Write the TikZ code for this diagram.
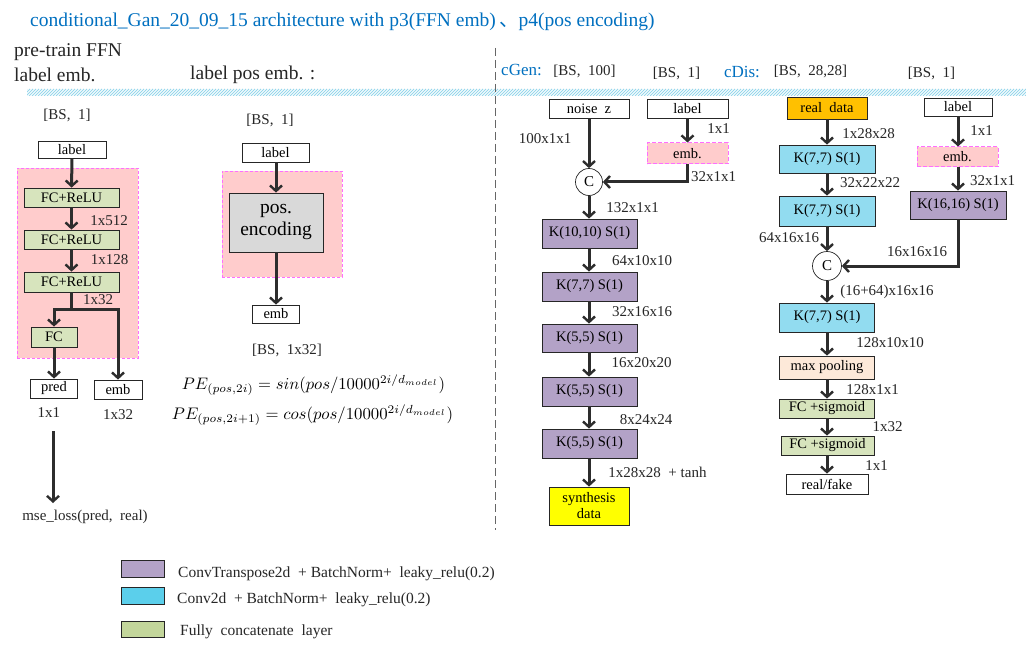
\documentclass[tikz,border=0pt]{standalone}
\usepackage{fontspec}
\setmainfont{Liberation Serif}
\newfontfamily\cjk{Noto Sans CJK SC}
\usetikzlibrary{arrows.meta,calc}
\definecolor{titleblue}{RGB}{0,112,192}
\definecolor{pinkfill}{RGB}{255,204,204}
\definecolor{pinkline}{RGB}{255,110,255}
\definecolor{fcgreen}{RGB}{215,228,189}
\definecolor{leggreen}{RGB}{195,214,155}
\definecolor{convpurple}{RGB}{179,162,199}
\definecolor{convcyan}{RGB}{146,220,240}
\definecolor{legcyan}{RGB}{91,207,235}
\definecolor{posgray}{RGB}{217,217,217}
\definecolor{realorange}{RGB}{255,192,0}
\definecolor{synyellow}{RGB}{255,255,0}
\definecolor{poolpeach}{RGB}{253,233,217}
\definecolor{hatchblue}{RGB}{150,215,235}
\definecolor{arrgray}{RGB}{45,45,45}
\definecolor{edgegray}{RGB}{38,38,38}
\tikzset{
  box/.style={draw=edgegray, line width=0.8pt, inner sep=0pt, align=center, font=\fontsize{14.5}{15}\selectfont},
  whitebox/.style={box, fill=white},
  fcbox/.style={box, fill=fcgreen},
  purplebox/.style={box, fill=convpurple},
  cyanbox/.style={box, fill=convcyan},
  embbox/.style={box, fill=pinkfill, draw=pinkline, dashed, dash pattern=on 4pt off 2pt, line width=1pt},
  pinkbg/.style={fill=pinkfill, draw=pinkline, dash pattern=on 3pt off 2pt, line width=0.6pt, inner sep=0pt},
  concat/.style={circle, draw=edgegray, line width=0.7pt, fill=white, minimum size=27pt, inner sep=0pt, font=\fontsize{15}{15}\selectfont},
  arr/.style={draw=arrgray, line width=3pt, -{Straight Barb[length=5.5pt,width=12pt,line width=2.4pt]}},
  plainline/.style={draw=arrgray, line width=3pt},
  lbl/.style={inner sep=0pt, font=\fontsize{15}{15}\selectfont, text=black!85},
  head/.style={inner sep=0pt, font=\fontsize{19.5}{20}\selectfont, text=black!85, anchor=west},
  bluelbl/.style={inner sep=0pt, font=\fontsize{17}{17}\selectfont, text=titleblue},
  legbox/.style={draw=edgegray, line width=0.8pt, minimum width=43pt, minimum height=17pt, inner sep=0pt},
  legtext/.style={inner sep=0pt, anchor=west, font=\fontsize{15.5}{16}\selectfont, text=black!85},
}
\begin{document}
\begin{tikzpicture}[x=1pt,y=-1pt]
\useasboundingbox[fill=white] (0,0) rectangle (1026,650);

% title
\node[inner sep=0pt, anchor=west, text=titleblue, font=\fontsize{19.5}{20}\selectfont] (title) at (30,22)
  {conditional\_Gan\_20\_09\_15 architecture with p3(FFN emb)\,{\cjk 、}p4(pos encoding)};
\node[head] (pretrain) at (14,52) {pre-train FFN};
\node[head] (labelemb) at (14,75) {label emb.};
\node[head] (labelpos) at (190,75) {label pos emb. :};

% hatched strip
\begin{scope}
  \clip (27,89) rectangle (1026,96);
  \foreach \i in {20,23,...,1030} {
    \draw[hatchblue, line width=0.9pt] (\i,96) -- ++(7,-7);
  }
\end{scope}

% dashed separator
\coordinate (septop) at (495,48);
\coordinate (sepbot) at (495,530);
\draw[gray!80!black, line width=1pt, dash pattern=on 8pt off 4pt] (septop) -- (sepbot);

% ---------- left : FFN ----------
\node[lbl] (bs1) at (67,115) {[BS,\ \ 1]};
\node[whitebox, minimum width=68pt, minimum height=17pt] (lbl1) at (72,149.5) {label};
\node[pinkbg, minimum width=121pt, minimum height=190pt] (bg1) at (77.5,263) {};
\node[fcbox, minimum width=95pt, minimum height=19pt] (fc1) at (71.5,197.5) {FC+ReLU};
\node[fcbox, minimum width=95pt, minimum height=19pt] (fc2) at (71.5,239.5) {FC+ReLU};
\node[fcbox, minimum width=95pt, minimum height=20pt] (fc3) at (71.5,282) {FC+ReLU};
\node[fcbox, minimum width=46pt, minimum height=20pt] (fc4) at (54,337) {FC};
\node[whitebox, minimum width=47pt, minimum height=19pt] (pred) at (54,388.5) {pred};
\node[whitebox, minimum width=48pt, minimum height=19pt] (emb1) at (118,389.5) {emb};
\node[lbl] (d512) at (109,221) {1x512};
\node[lbl] (d128) at (109.5,260) {1x128};
\node[lbl] (d32a) at (98,300) {1x32};
\node[lbl] (d1a) at (49,413) {1x1};
\node[lbl] (d32b) at (118,415) {1x32};
\node[lbl] (mse) at (85,517) {mse\_loss(pred,\ \ real)};
\coordinate (msestart) at (53,431);
\coordinate (mseend) at (53,503);

\draw[arr] (lbl1) -- (fc1);
\draw[arr] (fc1) -- (fc2);
\draw[arr] (fc2) -- (fc3);
\coordinate (split) at (71.5,309);
\draw[plainline] (fc3.south) -- (split);
\draw[arr] (split) -| (fc4.north);
\draw[arr] (split) -| (emb1.north);
\draw[arr] (fc4) -- (pred);
\draw[arr] (msestart) -- (mseend);

% ---------- middle : pos encoding ----------
\node[lbl] (bs2) at (270,120) {[BS,\ \ 1]};
\node[whitebox, minimum width=67pt, minimum height=19pt] (lbl2) at (275.5,152.5) {label};
\node[pinkbg, minimum width=120pt, minimum height=106pt] (bg2) at (282,224) {};
\node[box, fill=posgray, minimum width=94pt, minimum height=59pt, font=\fontsize{19.5}{22}\selectfont] (posenc) at (276,222.5) {pos.\\encoding};
\node[whitebox, minimum width=47pt, minimum height=18pt] (emb2) at (276,314) {emb};
\node[lbl] (bs3) at (287,350) {[BS,\ \ 1x32]};
\node[inner sep=0pt] (pe1) at (313.5,385) {\resizebox{263pt}{!}{$PE_{(pos,2i)} = sin(pos/10000^{2i/d_{model}})$}};
\node[inner sep=0pt] (pe2) at (312.5,415) {\resizebox{281pt}{!}{$PE_{(pos,2i+1)} = cos(pos/10000^{2i/d_{model}})$}};
\draw[arr] (lbl2.south -| posenc) -- (posenc);
\draw[arr] (posenc) -- (emb2);

% ---------- cGen ----------
\node[bluelbl] (cgen) at (521.5,70) {cGen:};
\node[lbl] (bs4) at (584.5,71) {[BS,\ \ 100]};
\node[lbl] (bs5) at (676.5,73) {[BS,\ \ 1]};
\node[whitebox, minimum width=80pt, minimum height=19pt] (noise) at (589,108.5) {noise\ \ z};
\node[whitebox, minimum width=81pt, minimum height=19pt] (lbl3) at (687.5,108.5) {label};
\node[embbox, minimum width=81pt, minimum height=21pt] (emb3) at (687.5,153.5) {emb.};
\node[concat] (c1) at (589,182) {C};
\node[purplebox, minimum width=95pt, minimum height=29pt] (g1) at (589.5,233.5) {K(10,10)\ S(1)};
\node[purplebox, minimum width=95pt, minimum height=29pt] (g2) at (589.5,286.5) {K(7,7)\ S(1)};
\node[purplebox, minimum width=95pt, minimum height=28pt] (g3) at (589.5,338) {K(5,5)\ S(1)};
\node[purplebox, minimum width=95pt, minimum height=29pt] (g4) at (589.5,391.5) {K(5,5)\ S(1)};
\node[purplebox, minimum width=95pt, minimum height=29pt] (g5) at (589.5,443.5) {K(5,5)\ S(1)};
\node[box, fill=synyellow, minimum width=80pt, minimum height=38pt] (synth) at (589,506) {synthesis\\[1pt]data};
\node[lbl] (t1) at (545,139) {100x1x1};
\node[lbl] (t2) at (718.5,129) {1x1};
\node[lbl] (t3) at (713.5,177) {32x1x1};
\node[lbl] (t4) at (632.5,208) {132x1x1};
\node[lbl] (t5) at (642,261) {64x10x10};
\node[lbl] (t6) at (642,312) {32x16x16};
\node[lbl] (t7) at (641.5,363) {16x20x20};
\node[lbl] (t8) at (646,420) {8x24x24};
\node[lbl] (t9) at (657.5,472) {1x28x28\ \ + tanh};

\draw[arr] (noise) -- (c1);
\draw[arr] (lbl3.south -| emb3) -- (emb3);
\draw[arr] (emb3.south) |- (c1.east);
\draw[arr] (c1) -- (g1.north -| c1);
\draw[arr] (g1.south -| c1) -- (g2.north -| c1);
\draw[arr] (g2.south -| c1) -- (g3.north -| c1);
\draw[arr] (g3.south -| c1) -- (g4.north -| c1);
\draw[arr] (g4.south -| c1) -- (g5.north -| c1);
\draw[arr] (g5.south -| c1) -- (synth.north -| c1);

% ---------- cDis ----------
\node[bluelbl] (cdis) at (742,72) {cDis:};
\node[lbl] (bs6) at (810.5,71) {[BS,\ \ 28,28]};
\node[lbl] (bs7) at (931.5,73) {[BS,\ \ 1]};
\node[box, fill=realorange, minimum width=80pt, minimum height=22pt] (real) at (827,108) {real\ \ data};
\node[whitebox, minimum width=68pt, minimum height=18pt] (lbl4) at (958,107) {label};
\node[cyanbox, minimum width=96pt, minimum height=28pt] (d1) at (827,159) {K(7,7)\ S(1)};
\node[embbox, minimum width=81pt, minimum height=20pt] (emb4) at (957.5,157) {emb.};
\node[cyanbox, minimum width=96pt, minimum height=30pt] (d2) at (827,211) {K(7,7)\ S(1)};
\node[purplebox, minimum width=96pt, minimum height=28pt] (k16) at (958,205) {K(16,16)\ S(1)};
\node[concat, minimum size=29pt] (c2) at (827,266) {C};
\node[cyanbox, minimum width=95pt, minimum height=29pt] (d3) at (827,317.5) {K(7,7)\ S(1)};
\node[box, fill=poolpeach, minimum width=95pt, minimum height=23pt] (pool) at (827,367.5) {max pooling};
\node[fcbox, minimum width=95pt, minimum height=19pt] (fs1) at (827,408.5) {FC +sigmoid};
\node[fcbox, minimum width=93pt, minimum height=19pt] (fs2) at (827.5,445.5) {FC +sigmoid};
\node[whitebox, minimum width=82pt, minimum height=20pt] (rf) at (827,484) {real/fake};
\node[lbl] (u1) at (868.5,134) {1x28x28};
\node[lbl] (u2) at (981.5,131) {1x1};
\node[lbl] (u3) at (870,183) {32x22x22};
\node[lbl] (u4) at (992.5,181) {32x1x1};
\node[lbl] (u5) at (789,238) {64x16x16};
\node[lbl] (u6) at (917,252) {16x16x16};
\node[lbl] (u7) at (887,292) {(16+64)x16x16};
\node[lbl] (u8) at (890,343) {128x10x10};
\node[lbl] (u9) at (872.5,390) {128x1x1};
\node[lbl] (u10) at (887.5,427) {1x32};
\node[lbl] (u11) at (876.5,466) {1x1};

\draw[arr] (real) -- (d1);
\draw[arr] (d1) -- (d2);
\draw[arr] (d2) -- (c2);
\draw[arr] (lbl4) -- (emb4.north -| lbl4);
\draw[arr] (emb4.south -| lbl4) -- (k16);
\draw[arr] (k16.south) |- (c2.east);
\draw[arr] (c2) -- (d3);
\draw[arr] (d3) -- (pool);
\draw[arr] (pool) -- (fs1);
\draw[arr] (fs1.south -| c2) -- (fs2.north -| c2);
\draw[arr] (fs2.south -| c2) -- (rf.north -| c2);

% ---------- legend ----------
\node[legbox, fill=convpurple] (lg1) at (142.5,568.5) {};
\node[legbox, fill=legcyan] (lg2) at (142.5,595.5) {};
\node[legbox, fill=leggreen, minimum height=16pt] (lg3) at (142.5,629) {};
\node[legtext] (lt1) at (178,574) {ConvTranspose2d\ \ + BatchNorm+\ \ leaky\_relu(0.2)};
\node[legtext] (lt2) at (177,600) {Conv2d\ \ + BatchNorm+\ \ leaky\_relu(0.2)};
\node[legtext] (lt3) at (180,632) {Fully\ \ concatenate\ \ layer};
\end{tikzpicture}
\end{document}
